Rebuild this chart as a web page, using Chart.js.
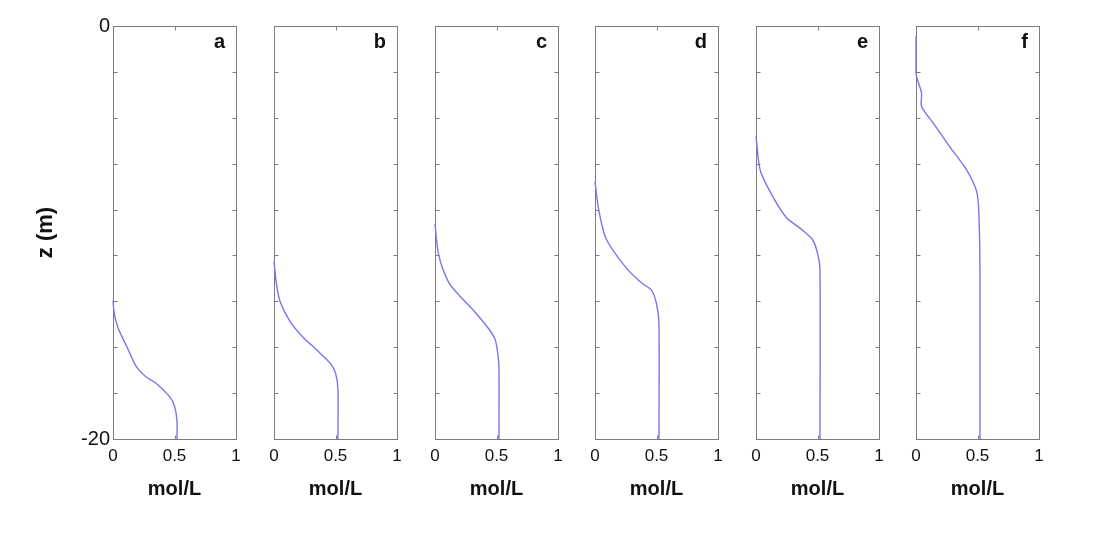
<!DOCTYPE html>
<html>
<head>
<meta charset="utf-8">
<script src="https://cdn.jsdelivr.net/npm/chart.js@4.4.0/dist/chart.umd.min.js"></script>
<style>
  body { margin: 0; background: #fff; }
  #wrap { position: relative; width: 1095px; height: 540px; overflow: hidden; }
  #wrap canvas { position: absolute; top: 0; }
</style>
</head>
<body>
<div id="wrap"></div>
<script>
// Panel letters
const panelLetters = ['a', 'b', 'c', 'd', 'e', 'f'];

// Concentration (mol/L) and depth z (m)
const concA = [0, 0.01, 0.04, 0.11, 0.19, 0.27, 0.35, 0.46, 0.50, 0.52, 0.52];
const depthA = [-13.3, -13.9, -14.6, -15.5, -16.5, -17.0, -17.3, -17.95, -18.4, -19.1, -20];

const concB = [0, 0.02, 0.05, 0.13, 0.24, 0.35, 0.46, 0.50, 0.52, 0.52];
const depthB = [-11.4, -12.5, -13.35, -14.3, -15.1, -15.7, -16.35, -16.8, -17.6, -20];

const concC = [0, 0.03, 0.11, 0.205, 0.31, 0.435, 0.49, 0.51, 0.52, 0.52];
const depthC = [-9.6, -11.1, -12.4, -13.1, -13.75, -14.65, -15.2, -15.85, -16.5, -20];

const concD = [0, 0.03, 0.09, 0.245, 0.37, 0.46, 0.50, 0.52, 0.52];
const depthD = [-7.55, -8.9, -10.3, -11.65, -12.4, -12.8, -13.45, -14.4, -20];

const concE = [0, 0.035, 0.14, 0.25, 0.36, 0.46, 0.50, 0.52, 0.52];
const depthE = [-5.35, -7.0, -8.3, -9.3, -9.8, -10.35, -11.0, -11.8, -20];

const concF = [0, 0, 0.045, 0.045, 0.14, 0.275, 0.41, 0.49, 0.51, 0.52, 0.52];
const depthF = [-0.5, -2.3, -3.25, -3.9, -4.7, -5.85, -6.95, -7.95, -8.9, -12, -20];

// Axis ticks
const xTicks = [0, 0.5, 1];
const yTicks = [0, -2.222, -4.444, -6.667, -8.889, -11.111, -13.333, -15.556, -17.778, -20];
const yLabels = { '0': '0', '-20': '-20' };

const panels = [
  [concA, depthA], [concB, depthB], [concC, depthC],
  [concD, depthD], [concE, depthE], [concF, depthF]
];

const panelLeft = [113, 274, 435, 595, 756, 916];
const FONT = "'Liberation Sans', Arial, sans-serif";
const lineColor = 'rgb(118, 118, 238)';
const boxColor = '#7c7c7c';

// Box frame, inward ticks and panel letter
const framePlugin = {
  id: 'frame',
  beforeDatasetsDraw(chart, args, opts) {
    const { ctx, chartArea: a, scales: { x, y } } = chart;
    const L = Math.round(a.left) + 0.5, R = Math.round(a.right) + 0.5;
    const T = Math.round(a.top) + 0.5, B = Math.round(a.bottom) + 0.5;
    ctx.save();
    ctx.strokeStyle = boxColor;
    ctx.lineWidth = 1;
    ctx.strokeRect(L, T, R - L, B - T);
    ctx.beginPath();
    y.ticks.forEach(t => {
      const py = Math.round(y.getPixelForValue(t.value)) + 0.5;
      if (py <= T + 1 || py >= B - 1) return;
      ctx.moveTo(L, py); ctx.lineTo(L + 4, py);
      ctx.moveTo(R, py); ctx.lineTo(R - 4, py);
    });
    x.ticks.forEach(t => {
      const px = Math.round(x.getPixelForValue(t.value)) + 0.5;
      if (px <= L + 1 || px >= R - 1) return;
      ctx.moveTo(px, T); ctx.lineTo(px, T + 4);
      ctx.moveTo(px, B); ctx.lineTo(px, B - 4);
    });
    ctx.stroke();
    ctx.fillStyle = '#111';
    ctx.font = 'bold 20px ' + FONT;
    ctx.textAlign = 'right';
    ctx.textBaseline = 'middle';
    ctx.fillText(opts.letter, a.right - 11, a.top + 16);
    ctx.restore();
  }
};

const wrap = document.getElementById('wrap');

panels.forEach(([conc, depth], i) => {
  const canvas = document.createElement('canvas');
  canvas.width = 223;
  canvas.height = 540;
  canvas.style.left = (panelLeft[i] - 80) + 'px';
  wrap.appendChild(canvas);

  new Chart(canvas.getContext('2d'), {
    type: 'scatter',
    data: {
      datasets: [{
        data: conc.map((c, k) => ({ x: c, y: depth[k] })),
        showLine: true,
        borderColor: lineColor,
        borderWidth: 1.4,
        pointRadius: 0,
        tension: 0.25,
        clip: false
      }]
    },
    options: {
      responsive: false,
      animation: false,
      layout: { padding: { top: 26, right: 20, left: 0, bottom: 0 } },
      plugins: {
        legend: { display: false },
        tooltip: { enabled: false },
        frame: { letter: panelLetters[i] }
      },
      scales: {
        x: {
          type: 'linear',
          min: 0, max: 1,
          afterBuildTicks: s => { s.ticks = xTicks.map(v => ({ value: v })); },
          afterFit: s => { s.height = 101; },
          grid: { display: false, drawTicks: false, tickLength: 0 },
          border: { display: false },
          ticks: {
            padding: 7,
            color: '#111',
            font: { family: FONT, size: 17 },
            maxRotation: 0,
            callback: v => String(v)
          },
          title: {
            display: true,
            text: 'mol/L',
            color: '#111',
            font: { family: FONT, size: 20, weight: 'bold' },
            padding: { top: 0, bottom: 39 }
          }
        },
        y: {
          type: 'linear',
          min: -20, max: 0,
          afterBuildTicks: s => { s.ticks = yTicks.map(v => ({ value: v })); },
          afterFit: s => { s.width = 80; },
          grid: { display: false, drawTicks: false, tickLength: 0 },
          border: { display: false },
          ticks: {
            padding: 3,
            color: '#111',
            font: { family: FONT, size: 20 },
            callback: v => (i === 0 && yLabels[String(v)] !== undefined) ? yLabels[String(v)] : ''
          },
          title: {
            display: i === 0,
            text: 'z (m)',
            color: '#111',
            font: { family: FONT, size: 22, weight: 'bold' },
            padding: { top: 0, bottom: 0 }
          }
        }
      }
    },
    plugins: [framePlugin]
  });
});
</script>
</body>
</html>
